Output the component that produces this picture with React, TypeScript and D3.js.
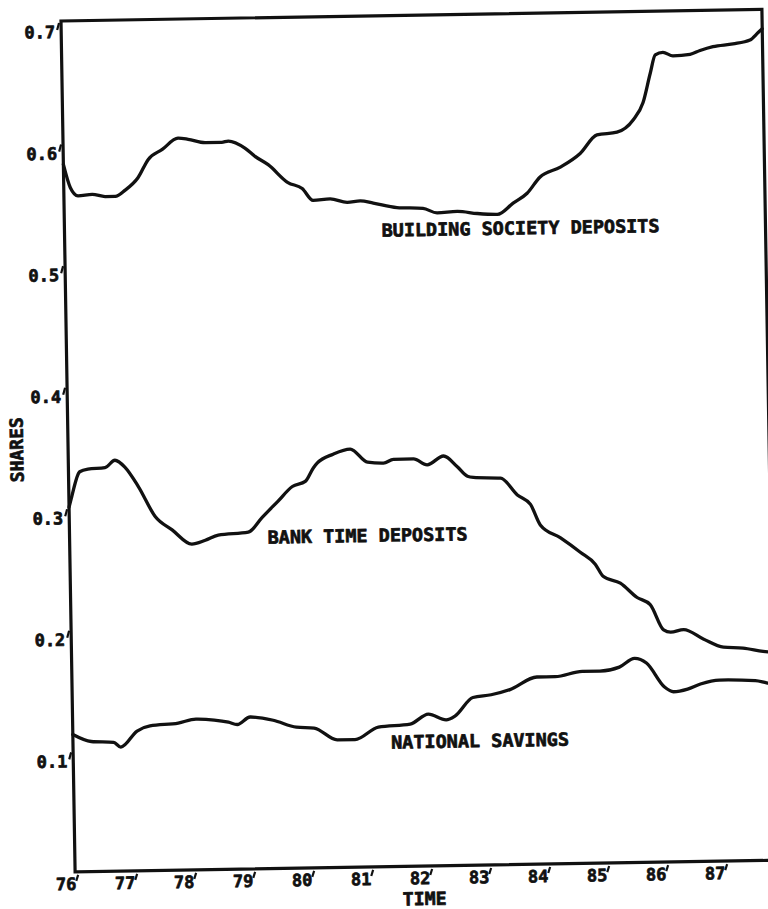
import React from "react";
import * as d3 from "d3";

// Shares of personal liquid assets, 1976–1987
const bsdYears = [76.0, 76.11, 76.24, 76.48, 76.70, 76.87, 77.04, 77.26, 77.44, 77.68, 77.95, 78.12, 78.41, 78.69, 78.80, 79.08, 79.25, 79.47, 79.80, 80.04, 80.22, 80.51, 80.80, 81.02, 81.24, 81.64, 82.08, 82.32, 82.66, 83.00, 83.34, 83.61, 83.85, 84.07, 84.42, 84.76, 85.05, 85.39, 85.67, 85.84, 85.97, 86.06, 86.19, 86.36, 86.65, 86.82, 87.04, 87.38, 87.67, 87.81, 87.88];
const bsdValues = [0.582, 0.563, 0.556, 0.557, 0.555, 0.555, 0.560, 0.570, 0.585, 0.593, 0.602, 0.601, 0.598, 0.598, 0.599, 0.593, 0.586, 0.579, 0.564, 0.559, 0.549, 0.550, 0.547, 0.548, 0.546, 0.542, 0.541, 0.537, 0.538, 0.536, 0.535, 0.544, 0.552, 0.565, 0.573, 0.584, 0.599, 0.601, 0.611, 0.625, 0.649, 0.664, 0.666, 0.663, 0.664, 0.667, 0.670, 0.672, 0.675, 0.681, 0.684];

const btdYears = [76.0, 76.05, 76.19, 76.33, 76.62, 76.79, 76.96, 77.18, 77.46, 77.74, 78.07, 78.30, 78.52, 79.03, 79.27, 79.54, 79.79, 80.01, 80.15, 80.22, 80.49, 80.78, 81.07, 81.34, 81.51, 81.85, 82.08, 82.36, 82.59, 82.76, 82.86, 83.32, 83.60, 83.82, 83.98, 84.32, 84.65, 84.90, 85.03, 85.32, 85.60, 85.82, 86.04, 86.16, 86.38, 86.71, 87.05, 87.38, 87.72, 87.88];
const btdValues = [0.300, 0.309, 0.329, 0.331, 0.332, 0.338, 0.332, 0.316, 0.291, 0.280, 0.268, 0.271, 0.275, 0.277, 0.289, 0.302, 0.314, 0.318, 0.329, 0.333, 0.340, 0.344, 0.333, 0.332, 0.335, 0.335, 0.330, 0.337, 0.328, 0.320, 0.319, 0.318, 0.304, 0.296, 0.279, 0.268, 0.256, 0.246, 0.236, 0.230, 0.218, 0.212, 0.191, 0.189, 0.191, 0.183, 0.176, 0.175, 0.172, 0.171];

const nsYears = [76.0, 76.31, 76.69, 76.81, 77.09, 77.31, 77.79, 78.09, 78.40, 78.64, 78.79, 79.01, 79.40, 79.79, 80.09, 80.48, 80.78, 81.18, 81.72, 82.03, 82.33, 82.48, 82.79, 83.10, 83.42, 83.88, 84.19, 84.65, 84.95, 85.28, 85.54, 85.74, 86.04, 86.19, 86.43, 86.65, 86.97, 87.58, 87.77, 87.88];
const nsValues = [0.113, 0.107, 0.106, 0.102, 0.115, 0.119, 0.121, 0.124, 0.123, 0.121, 0.119, 0.125, 0.122, 0.116, 0.115, 0.105, 0.105, 0.115, 0.117, 0.125, 0.120, 0.123, 0.138, 0.140, 0.144, 0.154, 0.154, 0.158, 0.158, 0.161, 0.168, 0.164, 0.144, 0.140, 0.142, 0.146, 0.149, 0.148, 0.146, 0.145];

const xTicks = [76, 77, 78, 79, 80, 81, 82, 83, 84, 85, 86, 87];
const xTickLabels = ["76", "77", "78", "79", "80", "81", "82", "83", "84", "85", "86", "87"];
const yTicks = [0.1, 0.2, 0.3, 0.4, 0.5, 0.6, 0.7];
const yTickLabels = ["0.1", "0.2", "0.3", "0.4", "0.5", "0.6", "0.7"];

const seriesNames = ["BUILDING SOCIETY DEPOSITS", "BANK TIME DEPOSITS", "NATIONAL SAVINGS"];
const xTitle = "TIME";
const yTitle = "SHARES";

const W = 701;
const H = 851;
const FONT = "'DejaVu Sans Mono', 'Liberation Mono', monospace";
const INK = "#111";

// heavy plotter-style lettering
const textStyle = {
  fontFamily: FONT,
  fontWeight: "bold" as const,
  fill: INK,
  stroke: INK,
  strokeWidth: 0.7,
  strokeLinejoin: "round" as const,
};

export default function App() {
  const x = d3.scaleLinear().domain([76, 87.88]).range([0, W]);
  const y = d3.scaleLinear().domain([0, 0.7]).range([H, 0]);

  const line = d3
    .line<[number, number]>()
    .x((d) => x(d[0]))
    .y((d) => y(d[1]))
    .curve(d3.curveMonotoneX);

  const series = [
    { years: bsdYears, values: bsdValues },
    { years: btdYears, values: btdValues },
    { years: nsYears, values: nsValues },
  ];

  // label anchors: [year, value, text length]
  const labelPos: [number, number, number][] = [
    [76 + 317 / 59, 0.7 - (221 / H) * 0.7, 278],
    [76 + 198 / 59, 0.7 - (526 / H) * 0.7, 200],
    [76 + 318 / 59, 0.7 - (733 / H) * 0.7, 178],
  ];

  return (
    <svg
      width={768}
      height={909}
      style={{ position: "absolute", left: 0, top: 0, background: "#fff", display: "block" }}
    >
      <g transform="translate(61,21) rotate(-0.95)">
        <rect x={0} y={0} width={W} height={H} fill="none" stroke={INK} strokeWidth={3.2} />

        {series.map((s, i) => (
          <path
            key={i}
            d={line(s.years.map((yr, j) => [yr, s.values[j]] as [number, number])) || ""}
            fill="none"
            stroke={INK}
            strokeWidth={3.3}
            strokeLinejoin="round"
            strokeLinecap="round"
          />
        ))}

        {yTicks.map((t, i) => (
          <g key={"y" + i}>
            <line x1={-2} x2={-4} y1={y(t) + 2} y2={y(t) + 9} stroke={INK} strokeWidth={2.2} />
            <text x={-6} y={y(t) + 17} textAnchor="end" fontSize={17} {...textStyle}>
              {yTickLabels[i]}
            </text>
          </g>
        ))}

        {xTicks.map((t, i) => (
          <g key={"x" + i}>
            <line x1={x(t) + 3} x2={x(t) + 1} y1={H + 3} y2={H + 9} stroke={INK} strokeWidth={2.2} />
            <text x={x(t) + 1} y={H + 18} textAnchor="end" fontSize={17} {...textStyle}>
              {xTickLabels[i]}
            </text>
          </g>
        ))}

        {seriesNames.map((name, i) => (
          <text
            key={"s" + i}
            x={x(labelPos[i][0])}
            y={y(labelPos[i][1])}
            fontSize={18}
            textLength={labelPos[i][2]}
            lengthAdjust="spacingAndGlyphs"
            {...textStyle}
          >
            {name}
          </text>
        ))}

        <text
          x={349}
          y={H + 39}
          textAnchor="middle"
          fontSize={18}
          textLength={44}
          lengthAdjust="spacingAndGlyphs"
          {...textStyle}
        >
          {xTitle}
        </text>

        <text
          transform={`translate(-45,${428}) rotate(-90)`}
          textAnchor="middle"
          fontSize={18}
          textLength={65}
          lengthAdjust="spacingAndGlyphs"
          {...textStyle}
        >
          {yTitle}
        </text>
      </g>
    </svg>
  );
}
